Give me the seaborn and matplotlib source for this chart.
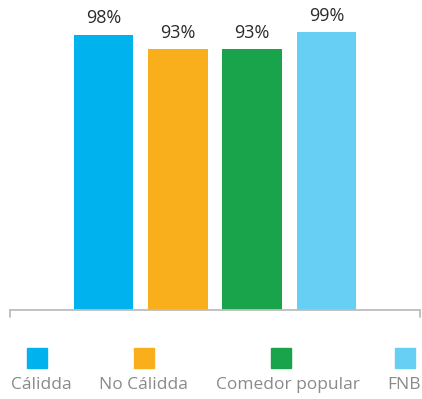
import matplotlib
matplotlib.use("Agg")
import matplotlib.pyplot as plt
import seaborn as sns
import pandas as pd
from matplotlib.patches import Rectangle

categories = ["Cálidda", "No Cálidda", "Comedor popular", "FNB"]
values = [98, 93, 93, 99]
colors = ["#00b2ee", "#f9ae1b", "#19a34a", "#67cef4"]

df = pd.DataFrame({"cat": categories, "val": values})

sns.set_style("white")
plt.rcParams["font.family"] = ["Open Sans", "DejaVu Sans"]

fig = plt.figure(figsize=(4.22, 3.99), dpi=100)
ax = fig.add_axes([10/422, 0.223, 410/422, 0.703])
sns.barplot(data=df, x="cat", y="val", hue="cat", palette=colors, saturation=1,
            width=0.8, legend=False, ax=ax, order=categories, hue_order=categories,
            linewidth=0)
ax.set_xlim(-1.258, 4.258)
ax.set_ylim(0, 100)
for s in ["top", "right", "left"]:
    ax.spines[s].set_visible(False)
ax.spines["bottom"].set_color("#bdbdbd")
ax.spines["bottom"].set_linewidth(1.3)
ax.set_xticks([])
ax.set_yticks([])
ax.set_xlabel("")
ax.set_ylabel("")
# end ticks of baseline
for xa in (0, 1):
    ax.annotate("", xy=(xa, 0), xycoords="axes fraction", xytext=(0, -5),
                textcoords="offset points",
                arrowprops=dict(arrowstyle="-", color="#bdbdbd", lw=1.3, shrinkA=0, shrinkB=0))

for i, v in enumerate(values):
    ax.annotate(f"{v}%", xy=(i, v), xytext=(0, 5.5), textcoords="offset points",
                ha="center", va="bottom", fontsize=13, color="#2b2b2b")

# legend
sq_x = [27, 134, 271, 395]
lab_x = [41, 143, 288, 404]
for i, c in enumerate(categories):
    fig.patches.append(Rectangle((sq_x[i]/422, 1 - 368/399), 20/422, 20/399,
                                 transform=fig.transFigure, color=colors[i]))
    fig.text(lab_x[i]/422, 1 - 385/399, c, ha="center", va="center",
             fontsize=12.5, color="#8a8a8a")

fig.savefig("out.png", dpi=100)
